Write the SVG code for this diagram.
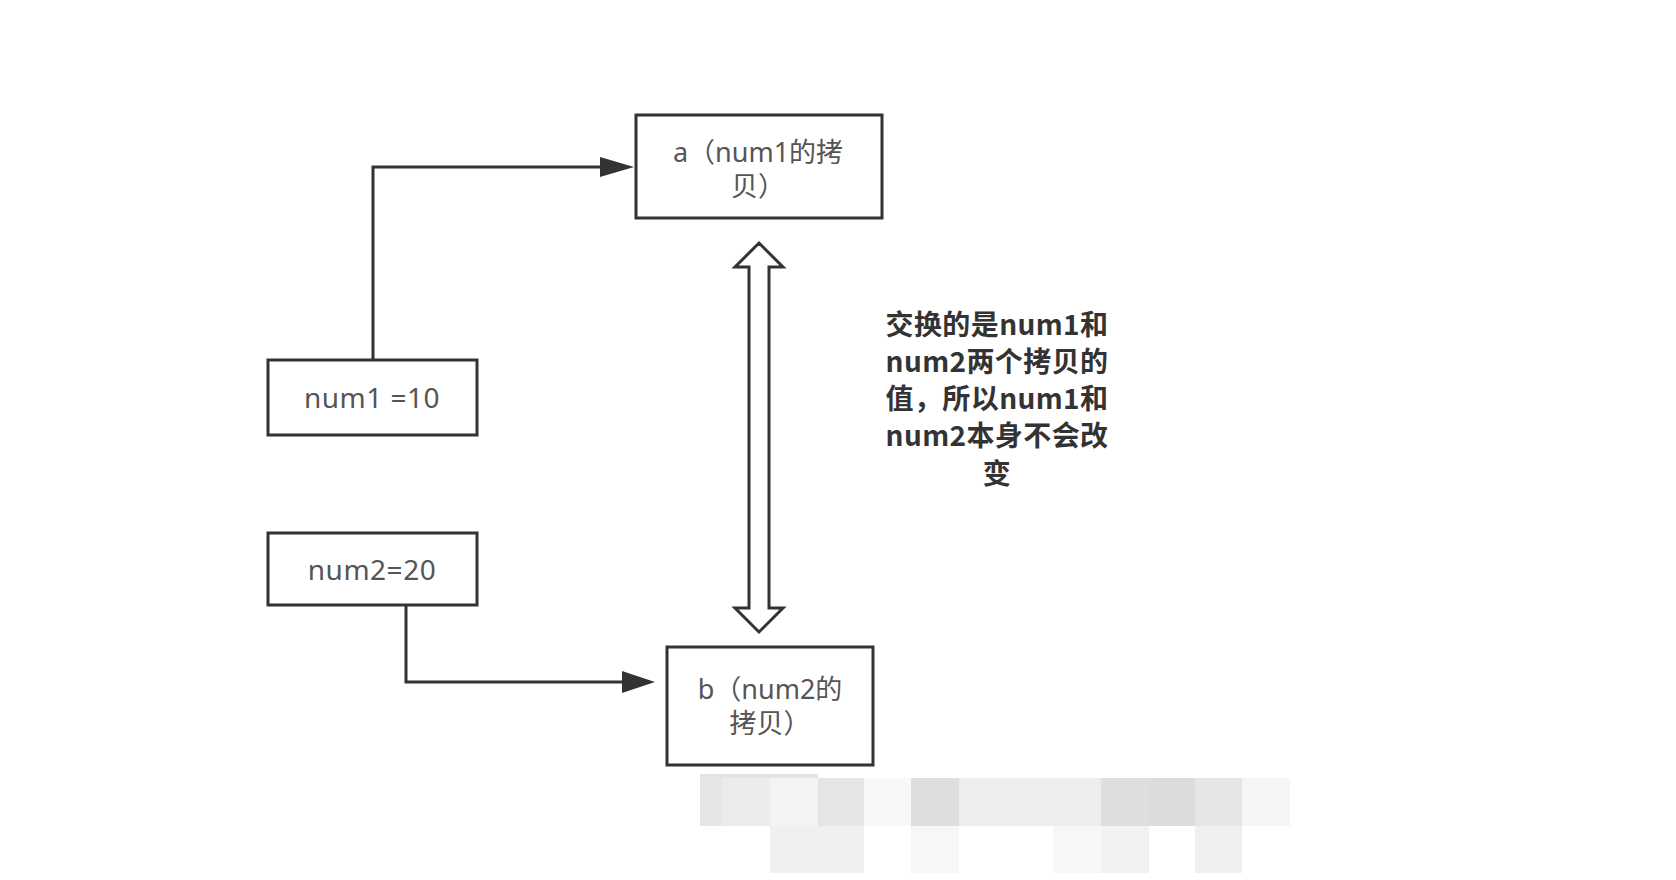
<svg xmlns="http://www.w3.org/2000/svg" width="1676" height="880" viewBox="0 0 1676 880">
<style>
.box{fill:#fff;stroke:#333;stroke-width:3}
.lbl{font-family:"Noto Sans","Noto Sans CJK SC",sans-serif;font-size:27px;fill:#555;text-anchor:middle}
.big{font-size:28px}
.note{font-family:"Noto Sans CJK SC","Noto Sans",sans-serif;font-size:28px;font-weight:bold;fill:#333;text-anchor:middle}
.edge{fill:none;stroke:#333;stroke-width:3}
.head{fill:#333;stroke:none}
</style>
<rect width="1676" height="880" fill="#fff"/>
<g id="connectors">
<path class="edge" d="M373,360 V167 H602"/>
<polygon class="head" points="600,157 634,167 600,177"/>
<path class="edge" d="M406,605 V682 H624"/>
<polygon class="head" points="622,671 655,682 622,693"/>
<polygon id="swap" fill="#fff" stroke="#333" stroke-width="3" stroke-linejoin="miter" points="759,243 783,267 769,267 769,608 783,608 759,632 735,608 749,608 749,267 735,267"/>
</g>
<g id="node-a">
<rect class="box" x="636" y="115" width="246" height="103"/>
<text class="lbl" x="758" y="162">a（num1的拷<tspan x="758" y="196">贝）</tspan></text>
</g>
<g id="node-num1">
<rect class="box" x="268" y="360" width="209" height="75"/>
<text class="lbl big" x="372" y="408" letter-spacing="0.5">num1 =10</text>
</g>
<g id="node-num2">
<rect class="box" x="268" y="533" width="209" height="72"/>
<text class="lbl big" x="372" y="580" letter-spacing="0.5">num2=20</text>
</g>
<g id="node-b">
<rect class="box" x="667" y="647" width="206" height="118"/>
<text class="lbl" x="770" y="699">b（num2的<tspan x="770" y="733">拷贝）</tspan></text>
</g>
<g id="note">
<text class="note" x="997" y="335" letter-spacing="0.4">交换的是num1和<tspan x="997" y="372">num2两个拷贝的</tspan><tspan x="997" y="409">值，所以num1和</tspan><tspan x="997" y="446">num2本身不会改</tspan><tspan x="997" y="484">变</tspan></text>
</g>
<g id="mosaic">
<rect x="700" y="774" width="118" height="4" fill="#e4e4e4"/>
<rect x="700" y="778" width="22" height="48" fill="#e6e6e6"/>
<rect x="722" y="778" width="48" height="48" fill="#ececec"/>
<rect x="770" y="778" width="48" height="48" fill="#f3f3f3"/>
<rect x="818" y="778" width="46" height="48" fill="#e5e5e5"/>
<rect x="864" y="778" width="47" height="48" fill="#f8f8f8"/>
<rect x="911" y="778" width="48" height="48" fill="#dedede"/>
<rect x="959" y="778" width="142" height="48" fill="#ededed"/>
<rect x="1101" y="778" width="48" height="48" fill="#dedede"/>
<rect x="1149" y="778" width="46" height="48" fill="#dcdcdc"/>
<rect x="1195" y="778" width="47" height="48" fill="#e6e6e6"/>
<rect x="1242" y="778" width="48" height="48" fill="#f5f5f5"/>
<rect x="770" y="826" width="94" height="47" fill="#f0f0f0"/>
<rect x="911" y="826" width="48" height="47" fill="#f7f7f7"/>
<rect x="1053" y="826" width="48" height="47" fill="#f7f7f7"/>
<rect x="1101" y="826" width="48" height="47" fill="#f2f2f2"/>
<rect x="1195" y="826" width="47" height="47" fill="#f0f0f0"/>
</g>
</svg>
